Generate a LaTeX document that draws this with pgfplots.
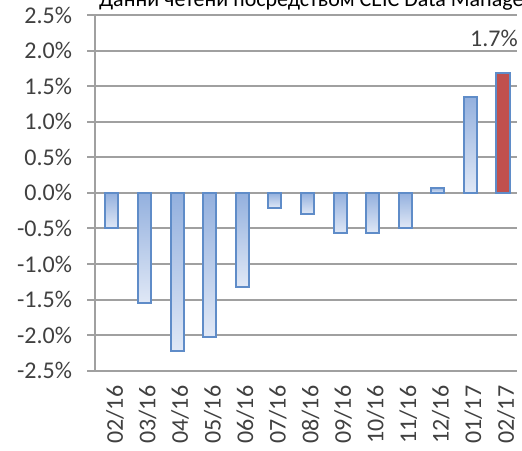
\documentclass[border=0pt]{standalone}
\usepackage{pgfplots}
\pgfplotsset{compat=1.18}
\usepackage{fontspec}
\setmainfont{Carlito}
\definecolor{gridgray}{RGB}{160,160,160}
\definecolor{barline}{RGB}{95,140,200}
\definecolor{bartop}{RGB}{147,176,222}
\definecolor{barbot}{RGB}{224,232,246}
\definecolor{barred}{RGB}{192,80,77}
\definecolor{txt}{RGB}{64,64,64}
\pgfplotsset{bluebar/.style={ybar, bar width=0.40, bar shift=0pt, draw=barline,
  line width=1pt, top color=bartop, bottom color=barbot}}
\begin{document}
\begin{tikzpicture}
\useasboundingbox (0,0) rectangle (261pt,225pt);
\begin{axis}[
  at={(47.5pt,39.65pt)}, anchor=south west,
  scale only axis, width=211pt, height=177.85pt,
  xmin=-0.52, xmax=12.43, ymin=-2.5, ymax=2.5,
  axis lines*=left,
  axis line style={-, draw=gridgray, line width=1pt},
  ymajorgrids, grid style={draw=gridgray, line width=1pt},
  tick align=outside, major tick length=4pt,
  ytick={-2.5,-2,-1.5,-1,-0.5,0,0.5,1,1.5,2,2.5},
  yticklabels={-2.5\%,-2.0\%,-1.5\%,-1.0\%,-0.5\%,0.0\%,0.5\%,1.0\%,1.5\%,2.0\%,2.5\%},
  ytick style={draw=gridgray, line width=1pt},
  xtick={0,1,2,3,4,5,6,7,8,9,10,11,12},
  xticklabels={02/16,03/16,04/16,05/16,06/16,07/16,08/16,09/16,10/16,11/16,12/16,01/17,02/17},
  xtick style={draw=none},
  ticklabel style={font=\fontsize{12}{14}\selectfont, text=txt},
  yticklabel style={anchor=east, xshift=-4pt},
  xticklabel style={rotate=90, anchor=east, yshift=-1.5pt},
  clip=false,
]
\addplot[bluebar] coordinates {(0,-0.50)};
\addplot[bluebar] coordinates {(1,-1.55)};
\addplot[bluebar] coordinates {(2,-2.23)};
\addplot[bluebar] coordinates {(3,-2.02)};
\addplot[bluebar] coordinates {(4,-1.32)};
\addplot[bluebar] coordinates {(5,-0.21)};
\addplot[bluebar] coordinates {(6,-0.30)};
\addplot[bluebar] coordinates {(7,-0.57)};
\addplot[bluebar] coordinates {(8,-0.57)};
\addplot[bluebar] coordinates {(9,-0.49)};
\addplot[bluebar] coordinates {(10,0.07)};
\addplot[bluebar] coordinates {(11,1.35)};
\addplot[ybar, bar width=0.40, bar shift=0pt, draw=barline, line width=1pt,
  fill=barred,
  nodes near coords={1.7\%},
  nodes near coords style={anchor=south, yshift=9.5pt, xshift=-4.5pt,
    font=\fontsize{12}{14}\selectfont, text=txt}]
  coordinates {(12,1.68)};
\end{axis}
\node[anchor=base west, font=\fontsize{11}{13}\selectfont, text=black]
  at (46pt,221.5pt) {Данни четени посредством CEIC Data Manager};
\end{tikzpicture}
\end{document}
